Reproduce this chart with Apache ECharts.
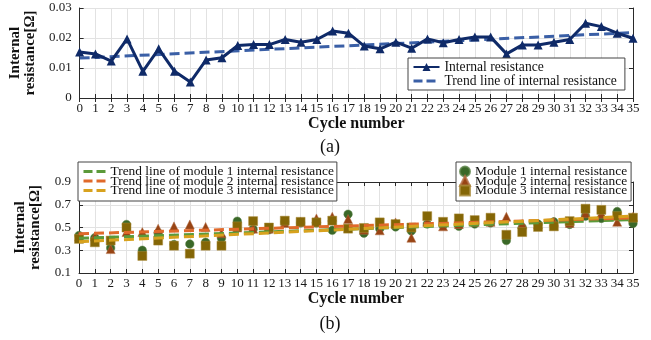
<!DOCTYPE html>
<html>
<head>
<meta charset="utf-8">
<script src="https://cdn.jsdelivr.net/npm/echarts@6/dist/echarts.min.js"></script>
<style>
  html, body { margin: 0; padding: 0; background: #fff; }
  #chart { width: 651px; height: 340px; }
</style>
</head>
<body>
<div id="chart"></div>
<script>
// Cycle numbers shared by both panels
const cycles = ['0','1','2','3','4','5','6','7','8','9','10','11','12','13','14','15','16','17',
  '18','19','20','21','22','23','24','25','26','27','28','29','30','31','32','33','34','35'];

// Panel (a): pack internal resistance per cycle [Ω]
const resistance = [0.0153,0.0147,0.0123,0.0197,0.0089,0.0164,0.0089,0.0053,0.0127,0.0134,
  0.0175,0.0178,0.0178,0.0195,0.0186,0.0195,0.0223,0.0216,0.0173,0.0164,0.0186,0.0166,
  0.0197,0.0184,0.0195,0.0203,0.0203,0.0147,0.0177,0.0177,0.0186,0.0195,0.0249,0.0238,
  0.0216,0.0199];
// Linear trend of the pack resistance: [cycle index, value] at both ends
const resistanceTrend = [[0, 0.0133], [35, 0.0218]];

// Panel (b): module internal resistance per cycle [Ω]
const module1 = [0.43,0.41,0.32,0.527,0.30,0.454,0.35,0.355,0.37,0.406,0.556,0.485,0.48,0.55,
  0.54,0.54,0.475,0.617,0.45,0.49,0.505,0.47,0.53,0.52,0.51,0.53,0.54,0.385,0.50,0.53,0.55,
  0.527,0.60,0.58,0.64,0.535];
const module2 = [0.42,0.42,0.31,0.46,0.46,0.49,0.51,0.527,0.505,0.45,0.50,0.49,0.49,0.54,
  0.55,0.58,0.595,0.575,0.48,0.475,0.545,0.41,0.55,0.51,0.53,0.55,0.55,0.595,0.53,0.53,0.55,
  0.54,0.625,0.62,0.55,0.595];
const module3 = [0.40,0.37,0.385,0.50,0.25,0.385,0.34,0.27,0.34,0.34,0.51,0.556,0.50,0.56,
  0.55,0.545,0.56,0.49,0.496,0.545,0.53,0.50,0.60,0.55,0.58,0.565,0.586,0.436,0.46,0.505,
  0.51,0.556,0.665,0.655,0.60,0.586];
// Linear trends of each module: [cycle index, value] at both ends
const module1Trend = [[0, 0.405], [35, 0.570]];
const module2Trend = [[0, 0.445], [35, 0.585]];
const module3Trend = [[0, 0.375], [35, 0.600]];

const serif = 'Liberation Serif';
const axisColor = '#2a2a2a';
const gridColor = '#e2e2e2';

function catAxis(gridIndex, position, withLabels, name, nameGap) {
  return {
    type: 'category', gridIndex, position, data: cycles, boundaryGap: false,
    axisLine: { show: true, lineStyle: { color: axisColor, width: 1 } },
    axisTick: { show: true, inside: true, length: 4, lineStyle: { color: axisColor } },
    axisLabel: { show: withLabels, fontFamily: serif, fontSize: 13, color: '#1a1a1a', margin: 4, interval: 0 },
    splitLine: { show: withLabels, lineStyle: { color: gridColor, width: 1 } },
    name: withLabels ? name : '', nameLocation: 'middle', nameGap,
    nameTextStyle: { fontFamily: serif, fontSize: 16, fontWeight: 'bold', color: '#111' }
  };
}

function valAxis(gridIndex, position, withLabels, min, max, interval, fmt) {
  return {
    type: 'value', gridIndex, position, min, max, interval,
    axisLine: { show: true, lineStyle: { color: axisColor, width: 1 } },
    axisTick: { show: true, inside: true, length: 4, lineStyle: { color: axisColor } },
    axisLabel: { show: withLabels, fontFamily: serif, fontSize: 13, color: '#1a1a1a', margin: 8, formatter: fmt },
    splitLine: { show: withLabels, lineStyle: { color: gridColor, width: 1 } },
    name: withLabels ? 'Internal\nresistance[Ω]' : '', nameLocation: 'middle', nameRotate: 90, nameGap: 36,
    nameTextStyle: { fontFamily: serif, fontSize: 15, fontWeight: 'bold', color: '#111', lineHeight: 15, align: 'center' }
  };
}

const legendText = { fontFamily: serif, fontSize: 13.4, color: '#111' };
// Legend entries for trend lines show only the dashed stroke
const dashedEntry = name => ({ name, itemStyle: { color: 'rgba(0,0,0,0)', borderWidth: 0 },
  lineStyle: { type: [9, 4], width: 3 } });

const option = {
  animation: false,
  backgroundColor: '#fff',
  title: [
    { text: '(a)', left: 325, top: 133, textAlign: 'center',
      textStyle: { fontFamily: serif, fontSize: 18, fontWeight: 'normal', color: '#111' } },
    { text: '(b)', left: 325, top: 310, textAlign: 'center',
      textStyle: { fontFamily: serif, fontSize: 18, fontWeight: 'normal', color: '#111' } }
  ],
  grid: [
    { left: 79, right: 18, top: 8, height: 90 },
    { left: 79, right: 18, top: 182, height: 91 }
  ],
  xAxis: [
    catAxis(0, 'bottom', true, 'Cycle number', 14),
    catAxis(0, 'top', false),
    catAxis(1, 'bottom', true, 'Cycle number', 15),
    catAxis(1, 'top', false)
  ],
  yAxis: [
    valAxis(0, 'left', true, 0, 0.03, 0.01),
    valAxis(0, 'right', false, 0, 0.03, 0.01),
    valAxis(1, 'left', true, 0.1, 0.9, 0.2, v => v.toFixed(1)),
    valAxis(1, 'right', false, 0.1, 0.9, 0.2)
  ],
  legend: [
    {
      data: ['Internal resistance', dashedEntry('Trend line of internal resistance')],
      orient: 'vertical', left: 408, top: 58,
      itemWidth: 26, itemHeight: 10, itemGap: 0,
      padding: [2, 8, 2, 4],
      backgroundColor: '#fff', borderColor: '#444', borderWidth: 1, borderRadius: 0,
      textStyle: Object.assign({}, legendText, { fontSize: 13.6 })
    },
    {
      data: [dashedEntry('Trend line of module 1 internal resistance'),
             dashedEntry('Trend line of module 2 internal resistance'),
             dashedEntry('Trend line of module 3 internal resistance')],
      orient: 'vertical', left: 78, top: 162,
      itemWidth: 22, itemHeight: 8, itemGap: -3.5,
      padding: [3, 3, 4, 4],
      backgroundColor: '#fff', borderColor: '#444', borderWidth: 1, borderRadius: 0,
      textStyle: legendText
    },
    {
      data: ['Module 1 internal resistance', 'Module 2 internal resistance', 'Module 3 internal resistance'],
      orient: 'vertical', left: 456, top: 162,
      itemWidth: 10, itemHeight: 10, itemGap: -3.5,
      padding: [3, 4, 4, 3],
      backgroundColor: '#fff', borderColor: '#444', borderWidth: 1, borderRadius: 0,
      textStyle: legendText
    }
  ],
  series: [
    {
      name: 'Internal resistance', type: 'line', xAxisIndex: 0, yAxisIndex: 0,
      data: resistance, symbol: 'triangle', symbolSize: 9,
      lineStyle: { color: '#0f2a68', width: 3 }, itemStyle: { color: '#0f2a68' }, z: 3
    },
    {
      name: 'Trend line of internal resistance', type: 'line', xAxisIndex: 0, yAxisIndex: 0,
      data: resistanceTrend, symbol: 'none',
      lineStyle: { color: '#3a5fa6', width: 3, type: [10, 5] }, itemStyle: { color: '#3a5fa6' }, z: 2
    },
    {
      name: 'Module 1 internal resistance', type: 'scatter', xAxisIndex: 2, yAxisIndex: 2,
      data: module1, symbol: 'circle', symbolSize: 8.5,
      itemStyle: { color: '#3a6828', opacity: 1, borderColor: 'rgba(90,130,70,0.8)', borderWidth: 0.6 }
    },
    {
      name: 'Module 2 internal resistance', type: 'scatter', xAxisIndex: 2, yAxisIndex: 2,
      data: module2, symbol: 'triangle', symbolSize: 9,
      itemStyle: { color: '#984414', opacity: 1, borderColor: 'rgba(180,110,70,0.8)', borderWidth: 0.6 }
    },
    {
      name: 'Module 3 internal resistance', type: 'scatter', xAxisIndex: 2, yAxisIndex: 2,
      data: module3, symbol: 'rect', symbolSize: 9,
      itemStyle: { color: '#846606', opacity: 1, borderColor: 'rgba(170,140,60,0.8)', borderWidth: 0.6 }
    },
    {
      name: 'Trend line of module 1 internal resistance', type: 'line', xAxisIndex: 2, yAxisIndex: 2,
      data: module1Trend, symbol: 'none',
      lineStyle: { color: '#5b9a3a', width: 3, type: [10, 5] }, itemStyle: { color: '#5b9a3a' }, z: 3
    },
    {
      name: 'Trend line of module 2 internal resistance', type: 'line', xAxisIndex: 2, yAxisIndex: 2,
      data: module2Trend, symbol: 'none',
      lineStyle: { color: '#e0692a', width: 3, type: [10, 5] }, itemStyle: { color: '#e0692a' }, z: 3
    },
    {
      name: 'Trend line of module 3 internal resistance', type: 'line', xAxisIndex: 2, yAxisIndex: 2,
      data: module3Trend, symbol: 'none',
      lineStyle: { color: '#d8a21e', width: 3, type: [10, 5] }, itemStyle: { color: '#d8a21e' }, z: 3
    }
  ]
};

const chart = echarts.init(document.getElementById('chart'), null, { renderer: 'canvas' });
chart.setOption(option);
</script>
</body>
</html>
